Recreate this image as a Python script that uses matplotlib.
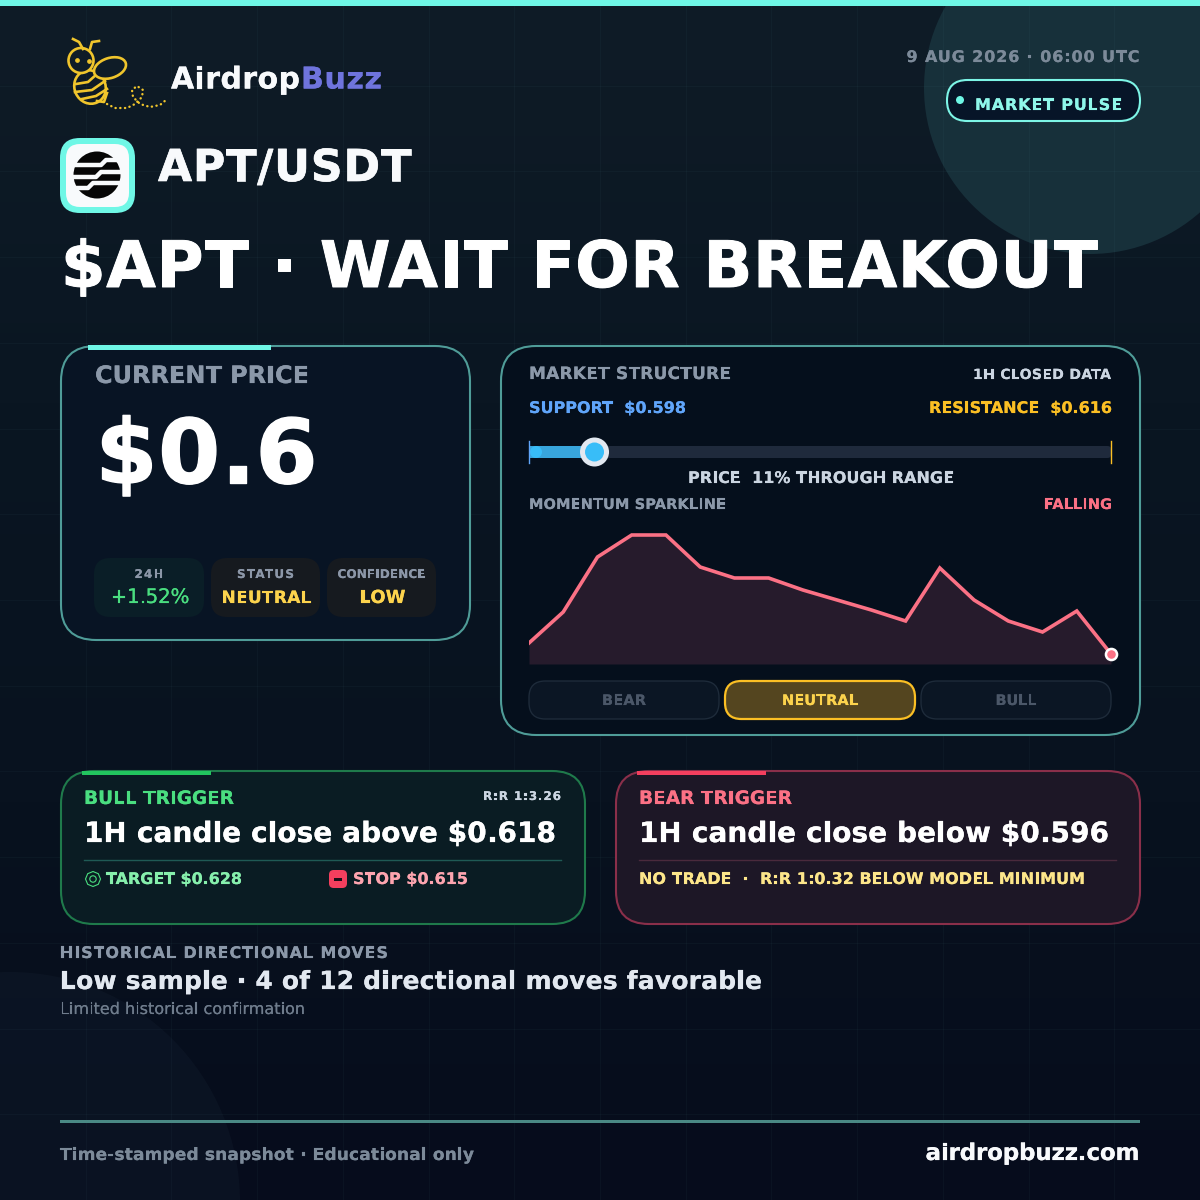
import os
import numpy as np
import matplotlib
matplotlib.use("Agg")
import matplotlib.pyplot as plt
import matplotlib.patheffects as pe
from matplotlib import font_manager as fm
from matplotlib.font_manager import FontProperties
from matplotlib.ft2font import Kerning, LoadFlags
from matplotlib.patches import FancyBboxPatch, Circle, Ellipse, Rectangle, RegularPolygon
from matplotlib.colors import LinearSegmentedColormap
from matplotlib.text import Text
from matplotlib.transforms import Bbox, IdentityTransform

# ---------- data ----------
pair = "APT/USDT"
headline = "$APT · WAIT FOR BREAKOUT"
current_price = "$0.6"
support = 0.598
resistance = 0.616
range_pct = 11
change_24h = "+1.52%"
status = "NEUTRAL"
confidence = "LOW"
spark_values = [21, 52, 107, 129, 129, 97, 86, 86, 74, 64, 54, 43, 96, 64, 43, 32, 53, 10]
regimes = ["BEAR", "NEUTRAL", "BULL"]

plt.rcParams['font.family'] = ['DejaVu Sans']
FONT_DIR = os.path.join(matplotlib.get_data_path(), 'fonts', 'ttf')
BOLD = os.path.join(FONT_DIR, 'DejaVuSans-Bold.ttf')
REG = os.path.join(FONT_DIR, 'DejaVuSans.ttf')

fig = plt.figure(figsize=(12, 12), dpi=100)
ax = fig.add_axes([0, 0, 1, 1])
ax.set_xlim(0, 1200)
ax.set_ylim(1200, 0)
ax.axis('off')


def em_offsets(path, s):
    """Pen position of each glyph in em units, kerning included, and the total advance."""
    f = fm.get_font(path, hinting_factor=1)
    f.set_size(1000, 72)
    pos, pen, prev = [], 0.0, None
    for ch in s:
        idx = f.get_char_index(ord(ch))
        if prev is not None:
            pen += f.get_kerning(prev, idx, Kerning.DEFAULT) / 64 / 1000
        pos.append(pen)
        g = f.load_char(ord(ch), flags=LoadFlags.NO_HINTING)
        pen += g.linearHoriAdvance / 65536 / 1000
        prev = idx
    return pos, pen


class SpacedText(Text):
    """One text object that draws its string with CSS-like letter spacing."""

    def set_offsets(self, offs, total):
        self._offs, self._total = offs, total

    def draw(self, renderer):
        full, pos, tr = self.get_text(), self.get_position(), self.get_transform()
        px, py = tr.transform(pos)
        self.set_transform(IdentityTransform())
        for ch, off in zip(full, self._offs):
            if ch != ' ':
                self.set_text(ch)
                self.set_position((px + off, py))
                super().draw(renderer)
        self.set_text(full)
        self.set_position(pos)
        self.set_transform(tr)

    def get_window_extent(self, renderer=None, dpi=None):
        bb = super().get_window_extent(renderer, dpi)
        return Bbox.from_extents(bb.x0, bb.y0, bb.x0 + self._total, bb.y1)


def T(x, y, s, size, color, ha='left', weight='bold', width=None, zorder=6):
    path = BOLD if weight == 'bold' else REG
    pos, adv = em_offsets(path, s)
    natural = adv * size
    w = width if width else natural
    sp = (w - natural) / max(len(s) - 1, 1)
    offs = [p * size + i * sp for i, p in enumerate(pos)]
    x0 = {'left': x, 'right': x - w, 'center': x - w / 2}[ha]
    t = SpacedText(x0, y, s, color=color, ha='left', va='baseline', zorder=zorder,
                   fontproperties=FontProperties(fname=path, size=size * 0.72))
    t.set_offsets(offs, w)
    stroke = size * 0.011 if size >= 40 else size * 0.005
    t.set_path_effects([pe.withStroke(linewidth=stroke, foreground=color)])
    ax.add_artist(t)
    return t


def box(x0, y0, x1, y1, r, fc, ec='none', lw=1.5, z=3):
    r = min(r * 1.17, (y1 - y0) / 2, (x1 - x0) / 2)
    p = FancyBboxPatch((x0 + r, y0 + r), x1 - x0 - 2 * r, y1 - y0 - 2 * r,
                       boxstyle=f"round,pad={r},rounding_size={r}", fc=fc, ec=ec, lw=lw, zorder=z)
    ax.add_patch(p)
    return p


# ---------- background ----------
cmap = LinearSegmentedColormap.from_list('bg', ['#0f1c27', '#0a1622', '#08121f', '#060c1c'])
ax.imshow(np.linspace(0, 1, 256).reshape(-1, 1), extent=(0, 1200, 1200, 0), cmap=cmap,
          aspect='auto', zorder=0)
ax.set_xlim(0, 1200)
ax.set_ylim(1200, 0)
ax.add_patch(Circle((1090, 88), 166, fc='#17303a', ec='none', zorder=0.5))
ax.add_patch(Circle((10, 1202), 230, fc='#8fb8d0', alpha=0.035, ec='none', zorder=0.5))
for g in np.arange(1, 14) * 1200 / 14:
    ax.plot([g, g], [0, 1200], color='#7fd8d8', alpha=0.035, lw=0.8, zorder=0.7)
    ax.plot([0, 1200], [g, g], color='#7fd8d8', alpha=0.035, lw=0.8, zorder=0.7)
ax.add_patch(Rectangle((0, 0), 1200, 6, fc='#6ff7e6', ec='none', zorder=2))

# ---------- logo ----------
gold = '#f0c52c'
bgc = '#0f1c27'
ax.add_patch(Ellipse((90, 87), 31, 34, angle=-25, fc='none', ec=gold, lw=1.9, zorder=4))
ax.plot([97, 104, 107], [101, 102, 93], color=gold, lw=1.9, zorder=4)
for xs_, ys_ in [((76, 88, 97), (84, 82, 74)), ((75, 92, 105), (92, 90, 81)),
                 ((82, 96, 107), (99, 96, 89))]:
    ax.plot(xs_, ys_, color=gold, lw=1.9, zorder=4)
ax.add_patch(Ellipse((110, 68), 33, 20, angle=-18, fc=bgc, ec=gold, lw=1.9, zorder=4.5))
ax.add_patch(Circle((81, 60.5), 12.5, fc=bgc, ec=gold, lw=1.9, zorder=5))
ax.plot([83, 79, 73], [49, 42, 39], color=gold, lw=1.9, zorder=5)
ax.plot([90, 92, 99], [49, 42, 41], color=gold, lw=1.9, zorder=5)
ax.plot([77, 89], [60, 61], ls='none', marker='o', ms=2.4, color=gold, zorder=6)
ax.plot([107, 115, 127, 135, 142, 143, 137, 132, 133, 140, 150, 160, 166],
        [104, 108, 108, 104, 97, 90, 86, 90, 97, 104, 107, 105, 100],
        color=gold, lw=1.7, ls=(0, (0.1, 1.9)), dash_capstyle='round', zorder=5)
T(171, 88.5, "Airdrop", 30, '#f8fafc', width=129)
T(301, 88.5, "Buzz", 30, '#6f74dd', width=81)

box(60, 138, 135, 213, 17, '#6ff7e6', z=4)
box(66, 144, 129, 207, 12, '#f8fafc', z=5)
ax.add_patch(Circle((97, 175), 23.5, fc='#060606', ec='none', zorder=6))
for bx, by in [((70, 101, 106, 125), (165, 165, 160, 160)),
               ((70, 96, 101, 125), (177, 177, 172, 172)),
               ((70, 88, 93, 125), (188, 188, 183, 183))]:
    ax.plot(bx, by, color='#f8fafc', lw=3.2, zorder=7, solid_capstyle='butt')

T(158, 181, pair, 44, '#f8fafc', width=253)
T(61, 287, headline, 64, '#ffffff', width=1036)
T(1139.5, 62, "9 AUG 2026 · 06:00 UTC", 16, '#7c8a99', ha='right', width=233)
box(947, 80, 1140, 121, 20, '#071528', ec='#7df5e6', lw=1.5, z=3)
ax.add_patch(Circle((960, 100), 4, fc='#6ff7e6', ec='none', zorder=5))
T(975, 110, "MARKET PULSE", 16, '#8ff7ea', width=147)

# ---------- current price card ----------
box(61, 346, 470, 640, 30, '#081424', ec='#4f9c98', lw=1.5)
ax.add_patch(Rectangle((88, 345), 183, 5, fc='#6ff7e6', ec='none', zorder=5))
T(95, 383, "CURRENT PRICE", 24, '#8b98a9', width=214)
T(95.5, 483, current_price, 89, '#ffffff', width=222)
pills = [(94, 204, '#0a1e27', '24H', change_24h, '#4ade80', 29, 79, 'normal', 20),
         (211, 320, '#161a1f', 'STATUS', status, '#fcd34d', 57, 90, 'bold', 17),
         (327, 436, '#161a1f', 'CONFIDENCE', confidence, '#fcd34d', 88, 46, 'bold', 18)]
for x0, x1, fc, lab, val, col, wl, wv, wgt, vs in pills:
    box(x0, 558, x1, 617, 14, fc)
    T((x0 + x1) / 2, 578, lab, 12, '#8c97a8', ha='center', width=wl)
    T((x0 + x1) / 2 + 1, 603, val, vs, col, ha='center', weight=wgt, width=wv)

# ---------- market structure card ----------
box(501, 346, 1140, 735, 30, '#050f1c', ec='#4f9c98', lw=1.5)
T(529, 379, "MARKET STRUCTURE", 17, '#8b98a9', width=202)
T(1111, 379, "1H CLOSED DATA", 14, '#cbd5e1', ha='right', width=138)
T(529, 413, f"SUPPORT  ${support:.3f}", 16, '#60a5fa', width=157)
T(1112, 413, f"RESISTANCE  ${resistance:.3f}", 16, '#fbbf24', ha='right', width=183)

tx0, tx1 = 529, 1111
knob = tx0 + (tx1 - tx0) * range_pct / 100
box(tx0, 446, tx1, 458, 3, '#1f2a3c', z=4)
ax.add_patch(Rectangle((tx0, 446), knob - tx0, 12, fc='#38a5dc', ec='none', zorder=4.5))
ax.add_patch(Circle((536, 452), 6, fc='#38bdf8', ec='none', zorder=5))
ax.plot([tx0, tx0], [441, 463], color='#60a5fa', lw=1, zorder=6)
ax.plot([tx1, tx1], [441, 463], color='#fbbf24', lw=1, zorder=6)
ax.add_patch(Circle((knob + 1.5, 452), 14.5, fc='#e2e8f0', ec='none', zorder=6))
ax.add_patch(Circle((knob + 1.5, 452), 9.5, fc='#38bdf8', ec='none', zorder=7))
T(821, 483, f"PRICE  {range_pct}% THROUGH RANGE", 16, '#cbd5e1', ha='center', width=266)
T(529, 509, "MOMENTUM SPARKLINE", 14.5, '#8b98a9', width=197)
T(1112, 509, "FALLING", 14.5, '#fb7185', ha='right', width=68)

sx = fig.add_axes([529 / 1200, 1 - 664 / 1200, 582 / 1200, 144 / 1200], zorder=5)
sx.patch.set_alpha(0)
sx.axis('off')
xs = np.arange(len(spark_values))
sx.set_xlim(0, len(spark_values) - 1)
sx.set_ylim(0, 144)
sx.fill_between(xs, spark_values, 0, color='#261b2c', lw=0, zorder=1)
sx.plot(xs, spark_values, color='#fb7185', lw=2.6, zorder=2, solid_joinstyle='miter')
sx.plot(xs[-1], spark_values[-1], 'o', ms=8, mfc='#fb7185', mec='white', mew=1.8, clip_on=False, zorder=3)

for i, name in enumerate(regimes):
    x0 = 529 + i * 196
    active = name == "NEUTRAL"
    box(x0, 681, x0 + 190, 719, 14, '#54451f' if active else '#0b1624',
        ec='#fbbf24' if active else '#1e2b3a', lw=1.6 if active else 1.0)
    T(x0 + 95, 705, name, 14.5, '#fcd34d' if active else '#4b5768', ha='center',
      width={'BEAR': 44, 'NEUTRAL': 76, 'BULL': 41}[name])

# ---------- trigger cards ----------
box(61, 771, 585, 924, 28, '#0a1c23', ec='#1f7a4b', lw=1.5)
ax.add_patch(Rectangle((82, 770.5), 129, 4.5, fc='#22c55e', ec='none', zorder=5))
T(84, 804, "BULL TRIGGER", 18.5, '#4ade80', width=150)
T(561, 800, "R:R 1:3.26", 12, '#cbd5e1', ha='right', width=78)
T(84, 842, "1H candle close above $0.618", 28, '#ffffff', width=472)
ax.plot([84, 561], [860, 860], color='#1f5a55', lw=1, zorder=5)
ax.add_patch(RegularPolygon((93, 879), 8, radius=7.5, fc='none', ec='#4ade80', lw=0.8, zorder=5))
ax.add_patch(Circle((93, 879), 3.2, fc='none', ec='#4ade80', lw=0.8, zorder=5))
T(106, 884, "TARGET $0.628", 16, '#86efac', width=136)
box(329, 870, 347, 888, 4, '#f43f5e', z=5)
ax.add_patch(Rectangle((334, 878), 8, 3, fc='#1a0f18', ec='none', zorder=6))
T(353, 884, "STOP $0.615", 16, '#fda4af', width=115)

box(616, 771, 1140, 924, 28, '#1d1726', ec='#8a2f4a', lw=1.5)
ax.add_patch(Rectangle((637, 770.5), 129, 4.5, fc='#f43f5e', ec='none', zorder=5))
T(639, 804, "BEAR TRIGGER", 18.5, '#fb7185', width=153)
T(639, 842, "1H candle close below $0.596", 28, '#ffffff', width=470)
ax.plot([639, 1116], [860, 860], color='#4a2a3c', lw=1, zorder=5)
T(639, 884, "NO TRADE  ·  R:R 1:0.32 BELOW MODEL MINIMUM", 16, '#fde68a', width=446)

# ---------- history ----------
T(60, 958, "HISTORICAL DIRECTIONAL MOVES", 16, '#8b98a9', width=328)
T(60, 989, "Low sample · 4 of 12 directional moves favorable", 25, '#e2e8f0', width=702)
T(60, 1014, "Limited historical confirmation", 16, '#6f7c8c', weight='normal', width=245)

# ---------- footer ----------
ax.add_patch(Rectangle((60, 1120), 1080, 3, fc='#4a8a85', ec='none', zorder=3))
T(60, 1160, "Time-stamped snapshot · Educational only", 17, '#7c8a99', width=414)
T(1139.5, 1160, "airdropbuzz.com", 23, '#f8fafc', ha='right', width=214)

fig.savefig('out.png', dpi=100)
